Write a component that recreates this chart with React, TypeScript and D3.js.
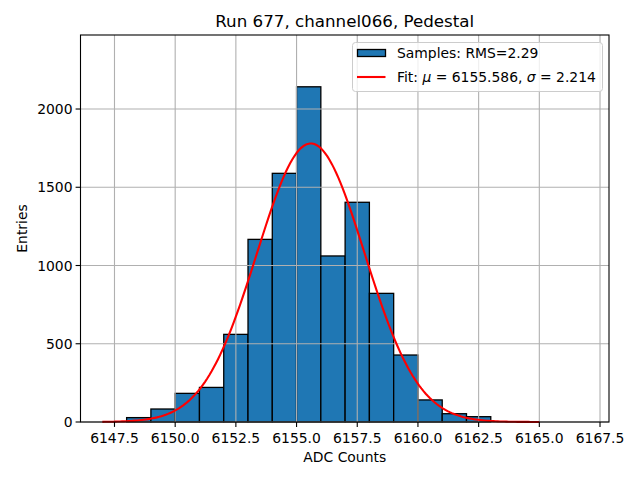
import * as d3 from "d3";

// histogram bin edges (integer ADC counts) and entries per bin
const binStarts = [6147, 6148, 6149, 6150, 6151, 6152, 6153, 6154, 6155, 6156, 6157, 6158, 6159, 6160, 6161, 6162, 6163, 6164, 6165, 6166];
const binCounts = [0, 28, 83, 183, 221, 560, 1167, 1589, 2142, 1061, 1404, 822, 428, 141, 53, 34, 0, 0, 0, 0];
const binWidth = 1;

// gaussian fit parameters
const fitMu = 6155.586;
const fitSigma = 2.214;
const fitAmp = 1780;
const fitRange = [6147, 6165];

const xTicks = [6147.5, 6150.0, 6152.5, 6155.0, 6157.5, 6160.0, 6162.5, 6165.0, 6167.5];
const yTicks = [0, 500, 1000, 1500, 2000];

const W = 640;
const H = 480;
const m = { left: 80.5, right: 609, top: 35, bottom: 422 };
const font = "DejaVu Sans, sans-serif";

const App = () => {
  const x = d3.scaleLinear().domain([6146.1, 6167.87]).range([m.left, m.right]);
  const y = d3.scaleLinear().domain([0, 2473]).range([m.bottom, m.top]);

  const fitX = d3.range(0, 201).map((i) => fitRange[0] + ((fitRange[1] - fitRange[0]) * i) / 200);
  const fitLine = d3
    .line<number>()
    .x((d) => x(d))
    .y((d) => y(fitAmp * Math.exp(-((d - fitMu) ** 2) / (2 * fitSigma * fitSigma))));

  return (
    <svg width={W} height={H} style={{ position: "absolute", left: 0, top: 0 }} fontFamily={font}>
      <rect width={W} height={H} fill="white" />
      {/* bars */}
      {binStarts.map((b, i) =>
        binCounts[i] > 0 ? (
          <rect
            key={b}
            x={x(b)}
            y={y(binCounts[i])}
            width={x(b + binWidth) - x(b)}
            height={y(0) - y(binCounts[i])}
            fill="#1f77b4"
            stroke="black"
            strokeWidth={1.3}
          />
        ) : null
      )}
      {/* grid over the bars */}
      {xTicks.map((t) => (
        <line key={"gx" + t} x1={x(t)} x2={x(t)} y1={m.top} y2={m.bottom} stroke="#b0b0b0" strokeWidth={1.1} />
      ))}
      {yTicks.map((t) => (
        <line key={"gy" + t} x1={m.left} x2={m.right} y1={y(t)} y2={y(t)} stroke="#b0b0b0" strokeWidth={1.1} />
      ))}
      <path d={fitLine(fitX) ?? ""} fill="none" stroke="red" strokeWidth={2.1} />
      {/* frame */}
      <rect x={m.left} y={m.top} width={m.right - m.left} height={m.bottom - m.top} fill="none" stroke="black" strokeWidth={1.1} />
      {/* x ticks */}
      {xTicks.map((t) => (
        <g key={"tx" + t}>
          <line x1={x(t)} x2={x(t)} y1={m.bottom} y2={m.bottom + 4.9} stroke="black" strokeWidth={1.1} />
          <text x={x(t)} y={m.bottom + 21} textAnchor="middle" fontSize={13.9}>
            {t.toFixed(1)}
          </text>
        </g>
      ))}
      {yTicks.map((t) => (
        <g key={"ty" + t}>
          <line x1={m.left - 4.9} x2={m.left} y1={y(t)} y2={y(t)} stroke="black" strokeWidth={1.1} />
          <text x={m.left - 8} y={y(t) + 5} textAnchor="end" fontSize={13.9}>
            {t}
          </text>
        </g>
      ))}
      <text x={(m.left + m.right) / 2} y={462} textAnchor="middle" fontSize={13.9}>
        ADC Counts
      </text>
      <text transform={`translate(27,${(m.top + m.bottom) / 2}) rotate(-90)`} textAnchor="middle" fontSize={13.9}>
        Entries
      </text>
      <text x={(m.left + m.right) / 2} y={27} textAnchor="middle" fontSize={16.7}>
        Run 677, channel066, Pedestal
      </text>
      {/* legend */}
      <g>
        <rect x={352.5} y={42.5} width={250} height={49} rx={3} fill="white" fillOpacity={0.8} stroke="#cccccc" strokeWidth={1} />
        <rect x={357.5} y={49.5} width={28} height={7} fill="#1f77b4" stroke="black" strokeWidth={1.3} />
        <text x={397} y={58} fontSize={13.9}>
          Samples: RMS=2.29
        </text>
        <line x1={357} x2={385.5} y1={77} y2={77} stroke="red" strokeWidth={2.1} />
        <text x={397} y={82} fontSize={13.9}>
          Fit: <tspan fontStyle="italic">μ</tspan> = 6155.586, <tspan fontStyle="italic">σ</tspan> = 2.214
        </text>
      </g>
    </svg>
  );
};

export default App;
